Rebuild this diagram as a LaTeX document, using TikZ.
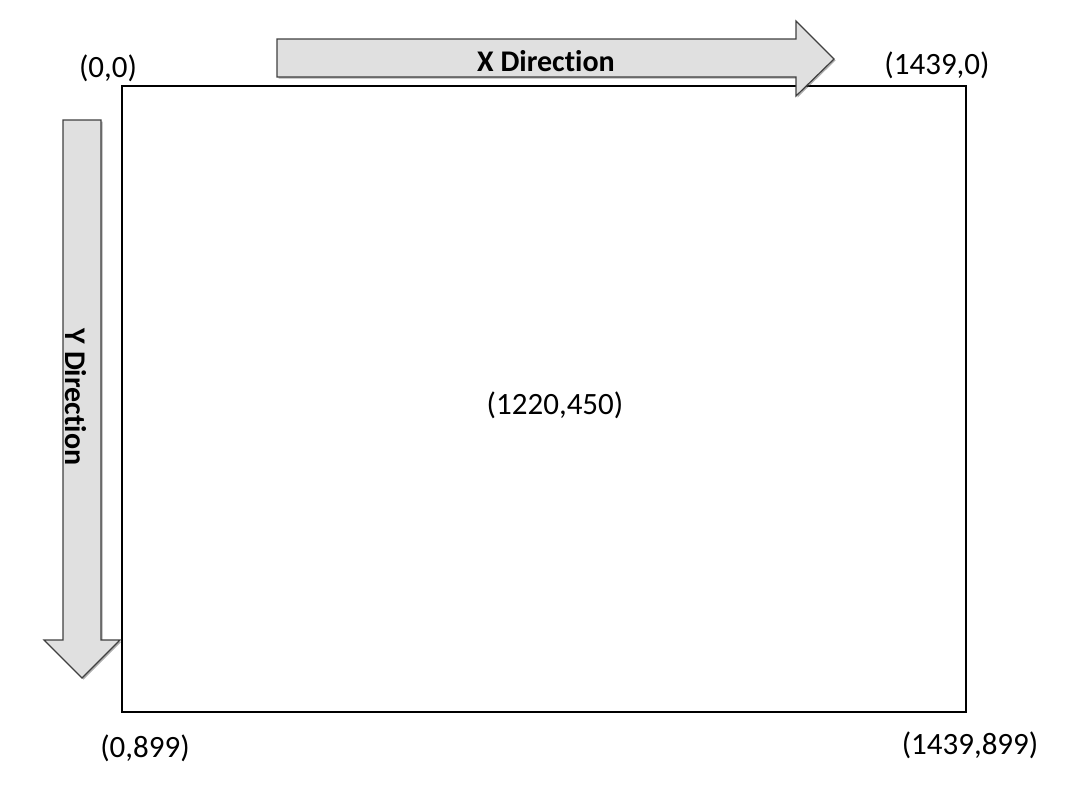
\documentclass[tikz,border=0pt]{standalone}
\usepackage{fontspec}
\setmainfont{Carlito}[Ligatures=NoCommon]
\usepackage{tikz}
\usetikzlibrary{shadows}

\tikzset{
  dirarrow/.style={draw=black!75, line width=1.2pt, fill=black!12, line join=miter,
    drop shadow={shadow xshift=1.5pt, shadow yshift=-1.5pt, opacity=0.45, fill=black!70}},
  coordlabel/.style={inner sep=0pt, font=\fontsize{31}{35}\selectfont},
  dirlabel/.style={inner sep=0pt, font=\fontsize{30}{34}\selectfont\bfseries}
}

\begin{document}
\begin{tikzpicture}[x=1pt,y=-1pt]
\useasboundingbox (0,0) rectangle (1090,806);
% screen
\draw[line width=1.2pt] (122,86) rectangle (966,712);
% direction arrows
\draw[dirarrow] (277,39) -- (796,39) -- (796,21) -- (834,59) -- (796,96) -- (796,77) -- (277,77) -- cycle;
\draw[dirarrow] (63,120) -- (101,120) -- (101,640) -- (120,640) -- (82,678) -- (44,640) -- (63,640) -- cycle;
\node[dirlabel] (xdir) at (546,61) {X Direction};
\node[dirlabel, rotate=-90] (ydir) at (76,397) {Y Direction};
% corner and centre labels
\node[coordlabel] (topleft) at (108,68) {(0,0)};
\node[coordlabel] (topright) at (937,65) {(1439,0)};
\node[coordlabel] (centre) at (555,405) {(1220,450)};
\node[coordlabel] (botleft) at (145,748) {(0,899)};
\node[coordlabel] (botright) at (970,745) {(1439,899)};
\end{tikzpicture}
\end{document}
